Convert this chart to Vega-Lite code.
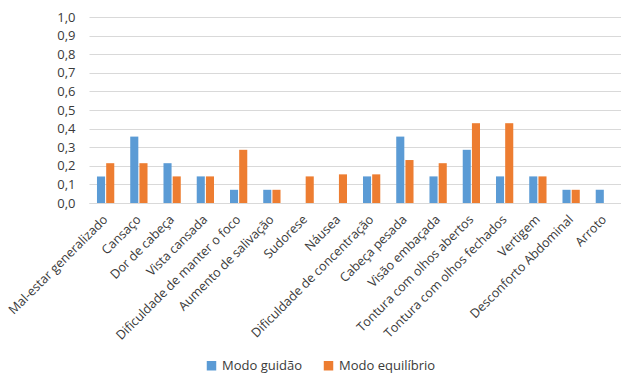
{
  "$schema": "https://vega.github.io/schema/vega-lite/v6.json",
  "width": 532,
  "height": 186,
  "autosize": {"type": "none"},
  "padding": {"left": 89, "top": 17, "right": 0, "bottom": 170},
  "background": "white",
  "config": {
    "view": {"stroke": null},
    "font": "Open Sans",
    "axis": {"labelFont": "Open Sans", "labelColor": "#3a3a3a"},
    "legend": {"labelFont": "Open Sans"}
  },
  "data": {
    "values": [
      {"sintoma": "Mal-estar generalizado", "modo": "Modo guidão", "valor": 0.143},
      {"sintoma": "Mal-estar generalizado", "modo": "Modo equilíbrio", "valor": 0.214},
      {"sintoma": "Cansaço", "modo": "Modo guidão", "valor": 0.357},
      {"sintoma": "Cansaço", "modo": "Modo equilíbrio", "valor": 0.214},
      {"sintoma": "Dor de cabeça", "modo": "Modo guidão", "valor": 0.214},
      {"sintoma": "Dor de cabeça", "modo": "Modo equilíbrio", "valor": 0.143},
      {"sintoma": "Vista cansada", "modo": "Modo guidão", "valor": 0.143},
      {"sintoma": "Vista cansada", "modo": "Modo equilíbrio", "valor": 0.143},
      {"sintoma": "Dificuldade de manter o foco", "modo": "Modo guidão", "valor": 0.071},
      {"sintoma": "Dificuldade de manter o foco", "modo": "Modo equilíbrio", "valor": 0.286},
      {"sintoma": "Aumento de salivação", "modo": "Modo guidão", "valor": 0.071},
      {"sintoma": "Aumento de salivação", "modo": "Modo equilíbrio", "valor": 0.071},
      {"sintoma": "Sudorese", "modo": "Modo guidão", "valor": 0},
      {"sintoma": "Sudorese", "modo": "Modo equilíbrio", "valor": 0.143},
      {"sintoma": "Náusea", "modo": "Modo guidão", "valor": 0},
      {"sintoma": "Náusea", "modo": "Modo equilíbrio", "valor": 0.154},
      {"sintoma": "Dificuldade de concentração", "modo": "Modo guidão", "valor": 0.143},
      {"sintoma": "Dificuldade de concentração", "modo": "Modo equilíbrio", "valor": 0.154},
      {"sintoma": "Cabeça pesada", "modo": "Modo guidão", "valor": 0.357},
      {"sintoma": "Cabeça pesada", "modo": "Modo equilíbrio", "valor": 0.231},
      {"sintoma": "Visão embaçada", "modo": "Modo guidão", "valor": 0.143},
      {"sintoma": "Visão embaçada", "modo": "Modo equilíbrio", "valor": 0.214},
      {"sintoma": "Tontura com olhos abertos", "modo": "Modo guidão", "valor": 0.286},
      {"sintoma": "Tontura com olhos abertos", "modo": "Modo equilíbrio", "valor": 0.429},
      {"sintoma": "Tontura com olhos fechados", "modo": "Modo guidão", "valor": 0.143},
      {"sintoma": "Tontura com olhos fechados", "modo": "Modo equilíbrio", "valor": 0.429},
      {"sintoma": "Vertigem", "modo": "Modo guidão", "valor": 0.143},
      {"sintoma": "Vertigem", "modo": "Modo equilíbrio", "valor": 0.143},
      {"sintoma": "Desconforto Abdominal", "modo": "Modo guidão", "valor": 0.071},
      {"sintoma": "Desconforto Abdominal", "modo": "Modo equilíbrio", "valor": 0.071},
      {"sintoma": "Arroto", "modo": "Modo guidão", "valor": 0.071},
      {"sintoma": "Arroto", "modo": "Modo equilíbrio", "valor": 0}
    ]
  },
  "mark": {"type": "bar"},
  "encoding": {
    "x": {
      "field": "sintoma",
      "type": "nominal",
      "sort": null,
      "scale": {"paddingInner": 0.48, "paddingOuter": 0.24},
      "axis": {
        "title": null,
        "labelAngle": -45,
        "labelAlign": "right",
        "labelBaseline": "middle",
        "labelFontSize": 12.6,
        "labelPadding": 14,
        "ticks": false,
        "domainColor": "#d9d9d9",
        "domainWidth": 1,
        "grid": false
      }
    },
    "xOffset": {
      "field": "modo",
      "type": "nominal",
      "sort": ["Modo guidão", "Modo equilíbrio"],
      "scale": {"paddingInner": 0.12}
    },
    "y": {
      "field": "valor",
      "type": "quantitative",
      "scale": {"domain": [0, 1], "nice": false},
      "axis": {
        "title": null,
        "values": [0, 0.1, 0.2, 0.3, 0.4, 0.5, 0.6, 0.7, 0.8, 0.9, 1.0],
        "labelExpr": "replace(format(datum.value, '.1f'), '.', ',')",
        "labelFontSize": 13,
        "labelPadding": 14,
        "ticks": false,
        "domain": false,
        "gridColor": "#d9d9d9",
        "gridWidth": 1
      }
    },
    "color": {
      "field": "modo",
      "type": "nominal",
      "sort": ["Modo guidão", "Modo equilíbrio"],
      "scale": {"domain": ["Modo guidão", "Modo equilíbrio"], "range": ["#5b9bd5", "#ed7d31"]},
      "legend": {
        "title": null,
        "orient": "none",
        "legendX": 116,
        "legendY": 342,
        "direction": "horizontal",
        "symbolType": "square",
        "symbolSize": 90,
        "labelFontSize": 13,
        "labelColor": "#3a3a3a",
        "columnPadding": 20
      }
    }
  }
}
